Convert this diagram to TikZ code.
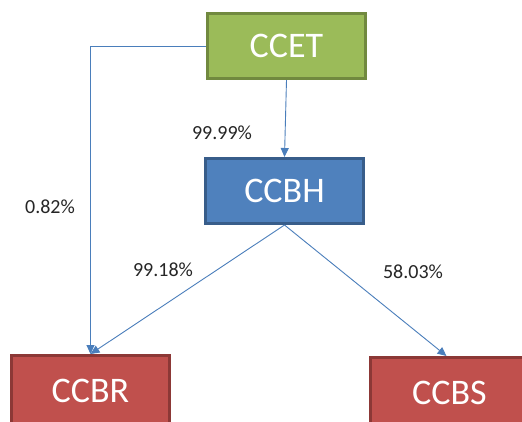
\documentclass[tikz,border=0pt]{standalone}
\usepackage{fontspec}
\setmainfont{Carlito}
\usetikzlibrary{arrows.meta,calc}
\definecolor{gfill}{HTML}{9BBB59}
\definecolor{gline}{HTML}{71893F}
\definecolor{bfill}{HTML}{4F81BD}
\definecolor{bline}{HTML}{385D8A}
\definecolor{rfill}{HTML}{C0504D}
\definecolor{rline}{HTML}{8C3836}
\definecolor{conn}{HTML}{4A7EBB}
\tikzset{
  box/.style={rectangle, line width=3pt, minimum width=158pt, minimum height=65pt, inner sep=0pt,
    text=white, font=\fontsize{36}{40}\selectfont},
  gbox/.style={box, fill=gfill, draw=gline},
  bbox/.style={box, fill=bfill, draw=bline},
  rbox/.style={box, fill=rfill, draw=rline, minimum height=77pt},
  conn/.style={draw=conn, line width=0.9pt, -{Triangle[length=9pt,width=8pt]}},
  pct/.style={font=\fontsize{20}{24}\selectfont, text=black!85, inner sep=0pt}
}
\begin{document}
\begin{tikzpicture}[x=1pt,y=-1pt]
\useasboundingbox (0,0) rectangle (522,421);
\clip (0,0) rectangle (522,421);
\fill[white] (0,0) rectangle (522,421);
\node[gbox] (ccet) at (286.5,46) {CCET};
\node[bbox] (ccbh) at (284.5,191) {CCBH};
\node[rbox] (ccbr) at (90.5,394) {\raisebox{6pt}{CCBR}};
\node[rbox] (ccbs) at (449.5,396) {\raisebox{6pt}{CCBS}};
\draw[conn] (ccet.south) -- (ccbh.north);
\draw[conn] (ccet.west) -| (ccbr.north);
\draw[conn] (ccbh.south) -- (ccbr.north);
\draw[conn] (ccbh.south) -- ($(ccbs.north)+(-3,0)$);
\node[pct] (l1) at (222,133) {99.99\%};
\node[pct] (l2) at (50,207) {0.82\%};
\node[pct] (l3) at (163,270) {99.18\%};
\node[pct] (l4) at (413,272) {58.03\%};
\end{tikzpicture}
\end{document}
